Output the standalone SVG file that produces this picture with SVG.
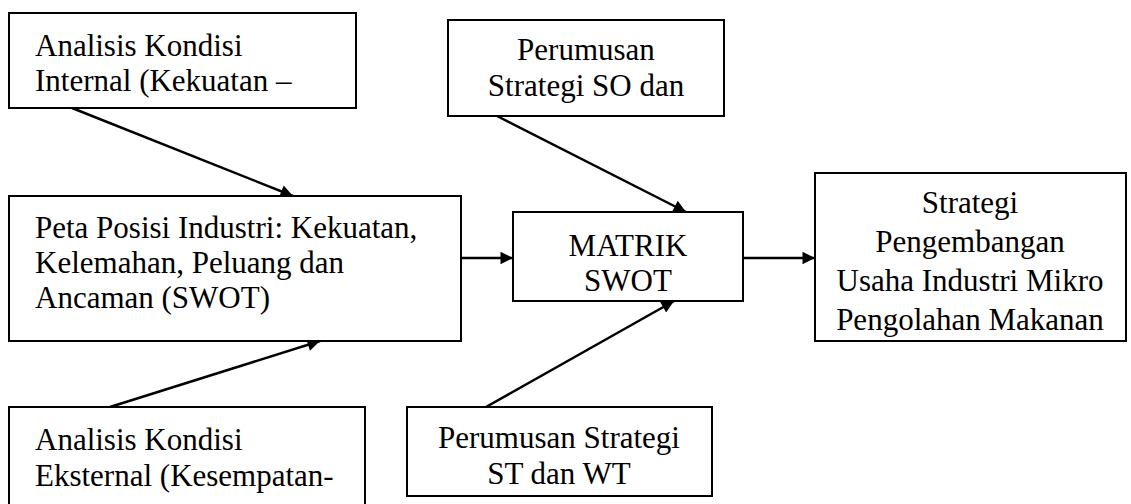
<svg xmlns="http://www.w3.org/2000/svg" width="1131" height="504" viewBox="0 0 1131 504">
<style>
.box{fill:#fff;stroke:#000;stroke-width:2}
.t{font-family:"Liberation Serif","Times New Roman",serif;font-size:31px;fill:#000}
.c{text-anchor:middle}
.ln{stroke:#000;stroke-width:2.5;fill:none;marker-end:url(#ah)}
</style>
<defs>
<marker id="ah" viewBox="0 0 10 10" refX="10" refY="5" markerWidth="6" markerHeight="5" markerUnits="strokeWidth" orient="auto">
<path d="M0,0 L10,5 L0,10 z" fill="#000"/>
</marker>
</defs>
<rect width="1131" height="504" fill="#fff"/>
<g id="connectors">
<line class="ln" x1="72" y1="108" x2="293" y2="196"/>
<line class="ln" x1="110" y1="407" x2="320" y2="341"/>
<line class="ln" x1="497" y1="116" x2="686" y2="212"/>
<line class="ln" x1="486" y1="407" x2="674" y2="301"/>
<line class="ln" x1="461" y1="258" x2="513" y2="258"/>
<line class="ln" x1="743" y1="258" x2="815" y2="258"/>
</g>
<g id="internal">
<rect class="box" x="9" y="13" width="347" height="95"/>
<text class="t" x="35" y="56">Analisis Kondisi</text>
<text class="t" x="35" y="91">Internal (Kekuatan –</text>
</g>
<g id="peta">
<rect class="box" x="9" y="196" width="452" height="145"/>
<text class="t" x="35" y="238">Peta Posisi Industri: Kekuatan,</text>
<text class="t" x="35" y="273">Kelemahan, Peluang dan</text>
<text class="t" x="35" y="308">Ancaman (SWOT)</text>
</g>
<g id="eksternal">
<rect class="box" x="9" y="407" width="356" height="110"/>
<text class="t" x="35" y="450">Analisis Kondisi</text>
<text class="t" x="35" y="486">Eksternal (Kesempatan-</text>
</g>
<g id="so">
<rect class="box" x="448" y="20" width="276" height="96"/>
<text class="t c" x="586" y="60">Perumusan</text>
<text class="t c" x="586" y="96">Strategi SO dan</text>
</g>
<g id="matrik">
<rect class="box" x="513" y="212" width="230" height="89"/>
<text class="t c" x="628" y="256">MATRIK</text>
<text class="t c" x="628" y="291">SWOT</text>
</g>
<g id="stwt">
<rect class="box" x="407" y="407" width="305" height="89"/>
<text class="t c" x="559" y="448">Perumusan Strategi</text>
<text class="t c" x="559" y="484">ST dan WT</text>
</g>
<g id="strategi">
<rect class="box" x="815" y="173" width="311" height="168"/>
<text class="t c" x="970" y="213">Strategi</text>
<text class="t c" x="970" y="252">Pengembangan</text>
<text class="t c" x="970" y="291">Usaha Industri Mikro</text>
<text class="t c" x="970" y="330">Pengolahan Makanan</text>
</g>
</svg>
